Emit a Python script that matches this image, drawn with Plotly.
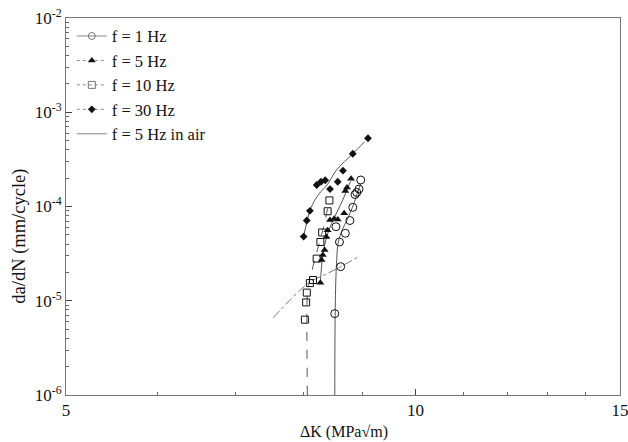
import math
import plotly.graph_objects as go

# ---- data ----
f1_x = [8.97, 8.94, 8.90, 8.87, 8.83, 8.78, 8.70, 8.54, 8.60, 8.62, 8.52]
f1_y = [1.91e-4, 1.53e-4, 1.41e-4, 1.34e-4, 9.8e-5, 7.1e-5, 5.2e-5, 6.1e-5, 4.2e-5, 2.3e-5, 7.3e-6]
f1_fit_x = [8.52, 8.53, 8.55, 8.58, 8.65, 8.73, 8.84, 8.93, 8.97]
f1_fit_y = [1.0e-6, 1.0e-5, 2.5e-5, 4.2e-5, 5.7e-5, 7.2e-5, 1.04e-4, 1.5e-4, 1.75e-4]

f5_x = [8.80, 8.73, 8.70, 8.68, 8.57, 8.51, 8.44, 8.40, 8.38, 8.35, 8.32, 8.30, 8.28]
f5_y = [1.97e-4, 1.59e-4, 1.46e-4, 8.5e-5, 7.3e-5, 7.4e-5, 7.2e-5, 5.6e-5, 4.75e-5, 3.45e-5, 3.06e-5, 2.71e-5, 1.55e-5]
f5_fit_x = [8.28, 8.31, 8.35, 8.42, 8.52, 8.62, 8.72, 8.79]
f5_fit_y = [1.55e-5, 2.7e-5, 3.9e-5, 5.6e-5, 7.8e-5, 1.05e-4, 1.45e-4, 1.85e-4]

f10_x = [8.43, 8.40, 8.31, 8.28, 8.22, 8.16, 8.11, 8.06, 8.05, 8.03]
f10_y = [1.16e-4, 8.9e-5, 5.3e-5, 4.2e-5, 2.8e-5, 1.66e-5, 1.54e-5, 1.22e-5, 9.6e-6, 6.3e-6]
f10_fit_x = [8.07, 8.07, 8.09, 8.13, 8.19, 8.26, 8.33, 8.40]
f10_fit_y = [1.0e-6, 1.2e-5, 1.5e-5, 1.9e-5, 2.8e-5, 4.0e-5, 6.0e-5, 9.5e-5]

f30_x = [8.01, 8.06, 8.11, 8.22, 8.29, 8.36, 8.44, 8.57, 8.66, 8.83, 9.10]
f30_y = [4.8e-5, 7.1e-5, 9.0e-5, 1.69e-4, 1.83e-4, 1.90e-4, 1.53e-4, 1.83e-4, 2.40e-4, 3.63e-4, 5.3e-4]
f30_fit_x = [8.01, 8.11, 8.20, 8.29, 8.39, 8.55, 8.83, 9.04]
f30_fit_y = [4.8e-5, 9.0e-5, 1.2e-4, 1.44e-4, 1.69e-4, 2.44e-4, 3.63e-4, 4.87e-4]

air_x = [7.54, 7.80, 8.11, 8.40, 8.62, 8.96]
air_y = [6.6e-6, 1.02e-5, 1.58e-5, 1.95e-5, 2.3e-5, 3.0e-5]

legend_names = ["f = 1 Hz", "f = 5 Hz", "f = 10 Hz", "f = 30 Hz", "f = 5 Hz in air"]
y_tick_vals = [1e-6, 1e-5, 1e-4, 1e-3, 1e-2]
y_tick_text = ["10<sup>-6</sup>", "10<sup>-5</sup>", "10<sup>-4</sup>", "10<sup>-3</sup>", "10<sup>-2</sup>"]
x_tick_vals = [5, 10, 15]
x_tick_text = ["5", "10", "15"]
x_title = "ΔK (MPa√m)"
y_title = "da/dN (mm/cycle)"

LINE = "#555555"
INK = "#111111"
SERIF = "Liberation Serif, Times New Roman, serif"

fig = go.Figure()

# fitted curves
for fx, fy, dash in [(f1_fit_x, f1_fit_y, "solid"), (f5_fit_x, f5_fit_y, "solid"),
                     (f10_fit_x, f10_fit_y, "dash"), (f30_fit_x, f30_fit_y, "solid")]:
    fig.add_trace(go.Scatter(x=fx, y=fy, mode="lines", showlegend=False,
                             line=dict(color=LINE, width=1, dash=dash, shape="spline")))
fig.add_trace(go.Scatter(x=air_x, y=air_y, mode="lines", showlegend=False,
                         line=dict(color="#777777", width=1, dash="dashdot", shape="spline")))

# markers
mk = [
    (f1_x, f1_y, dict(symbol="circle-open", size=8, color=INK, line=dict(width=1))),
    (f5_x, f5_y, dict(symbol="triangle-up", size=7, color=INK)),
    (f10_x, f10_y, dict(symbol="square-open", size=7, color=INK, line=dict(width=1))),
    (f30_x, f30_y, dict(symbol="diamond", size=6, color=INK)),
]
for x, y, m in mk:
    fig.add_trace(go.Scatter(x=x, y=y, mode="markers", marker=m, showlegend=False))

# legend entries
leg_styles = [
    ("solid", dict(symbol="circle-open", size=7, color="#777777", line=dict(width=1))),
    ("dot", dict(symbol="triangle-up", size=7, color=INK)),
    ("dot", dict(symbol="square-open", size=7, color="#777777", line=dict(width=1))),
    ("dot", dict(symbol="diamond", size=6, color=INK)),
    ("solid", None),
]
for name, (dash, m) in zip(legend_names, leg_styles):
    if m is None:
        fig.add_trace(go.Scatter(x=[None], y=[None], mode="lines", name=name,
                                 line=dict(color="#888888", width=1, dash=dash)))
    else:
        fig.add_trace(go.Scatter(x=[None], y=[None], mode="lines+markers", name=name,
                                 line=dict(color="#888888", width=1, dash=dash), marker=m))

minor_y = [k * 10 ** e for e in range(-6, -2) for k in range(2, 10)]

fig.update_layout(
    width=628, height=442,
    margin=dict(l=66, r=8, t=18, b=47),
    paper_bgcolor="white", plot_bgcolor="white",
    font=dict(family=SERIF, size=17, color=INK),
    legend=dict(x=0.0105, y=0.998, xanchor="left", yanchor="top",
                bgcolor="rgba(0,0,0,0)", font=dict(family=SERIF, size=16.5, color=INK),
                itemwidth=30, tracegroupgap=0),
    xaxis=dict(type="log", range=[math.log10(5), math.log10(15)], automargin=False,
               tickvals=x_tick_vals, ticktext=x_tick_text, ticklabeloverflow="allow",
               ticks="inside", ticklen=6, tickcolor="#444", showgrid=False, zeroline=False,
               showline=True, mirror=True, linecolor="#777", linewidth=1,
               minor=dict(tickvals=[6, 7, 8, 9, 11, 12, 13, 14], ticks="inside", ticklen=3, tickcolor="#666"),
               tickfont=dict(family=SERIF, size=17)),
    yaxis=dict(type="log", range=[-6, -2], automargin=False,
               tickvals=y_tick_vals, ticktext=y_tick_text, ticklabeloverflow="allow",
               ticks="inside", ticklen=6, tickcolor="#444", showgrid=False, zeroline=False,
               showline=True, mirror=True, linecolor="#777", linewidth=1,
               minor=dict(tickvals=minor_y, ticks="inside", ticklen=3, tickcolor="#666"),
               tickfont=dict(family=SERIF, size=17)),
    annotations=[
        dict(text=x_title, xref="paper", yref="paper", x=0.502, y=-0.098,
             xanchor="center", yanchor="middle", showarrow=False,
             font=dict(family=SERIF, size=16, color=INK)),
        dict(text=y_title, xref="paper", yref="paper", x=-0.083, y=0.42,
             xanchor="center", yanchor="middle", showarrow=False, textangle=-90,
             font=dict(family=SERIF, size=18.5, color=INK)),
    ],
)

# remove the browser's default 8px page margin so the 628x442 figure fills the window
fig.write_html("out.html", config={"displayModeBar": False},
               post_script="document.body.style.margin='0';")
